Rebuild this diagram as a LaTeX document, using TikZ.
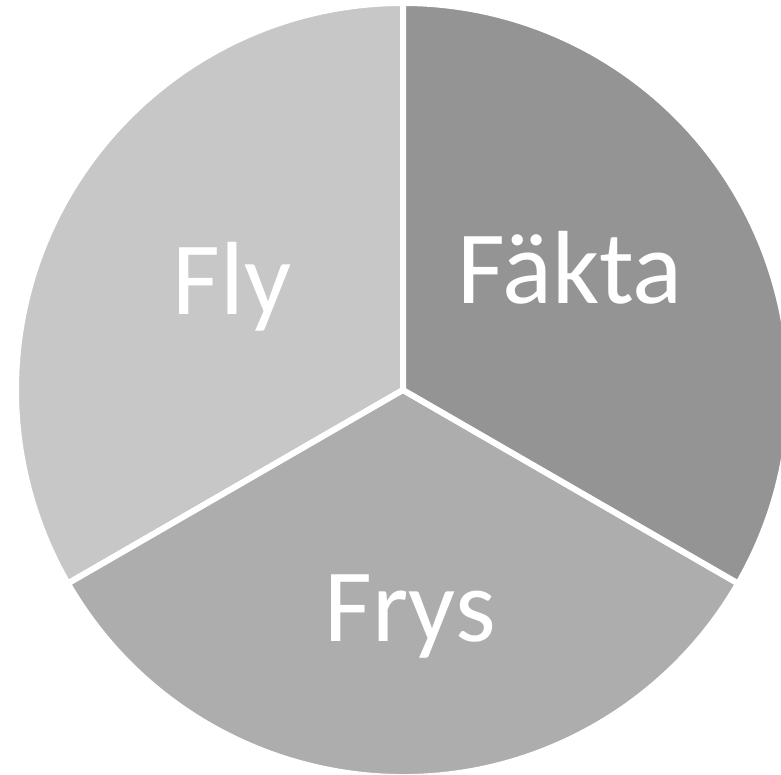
\documentclass[tikz,border=0pt]{standalone}
\usepackage{fontspec}
\setmainfont{Carlito}
\begin{document}
\begin{tikzpicture}
% Pie chart with three equal slices
\def\pxsz{0.5pt}
\def\pieRadius{387}
\providecommand{\pieFlyColor}{black!22}
\providecommand{\pieFaktaColor}{black!42}
\providecommand{\pieFrysColor}{black!32}
\providecommand{\pieGapColor}{white}
\providecommand{\pieGapWidth}{3pt}
\begin{scope}[x=\pxsz, y=\pxsz, line join=round,
    slice/.style={draw=\pieGapColor, line width=\pieGapWidth},
    slicelabel/.style={anchor=base, text=white, inner sep=0pt,
      font=\fontsize{52}{62}\selectfont}]
  \useasboundingbox (0,0) rectangle (781,775);
  \coordinate (c) at (403,385);
  % Slices
  \filldraw[slice, fill=\pieFlyColor] (c) -- ++(90:\pieRadius) arc (90:210:\pieRadius) -- cycle;
  \filldraw[slice, fill=\pieFrysColor] (c) -- ++(210:\pieRadius) arc (210:330:\pieRadius) -- cycle;
  % Fakta slice is pulled out a little
  \begin{scope}[shift={(2,-3)}]
    \filldraw[slice, fill=\pieFaktaColor] (c) -- ++(-30:\pieRadius) arc (-30:90:\pieRadius) -- cycle;
  \end{scope}
  % Labels
  \node[slicelabel] (fly) at (232,460) {Fly};
  \node[slicelabel] (fakta) at (570,471) {Fäkta};
  \node[slicelabel] (frys) at (410,133) {Frys};
\end{scope}
\end{tikzpicture}
\end{document}
